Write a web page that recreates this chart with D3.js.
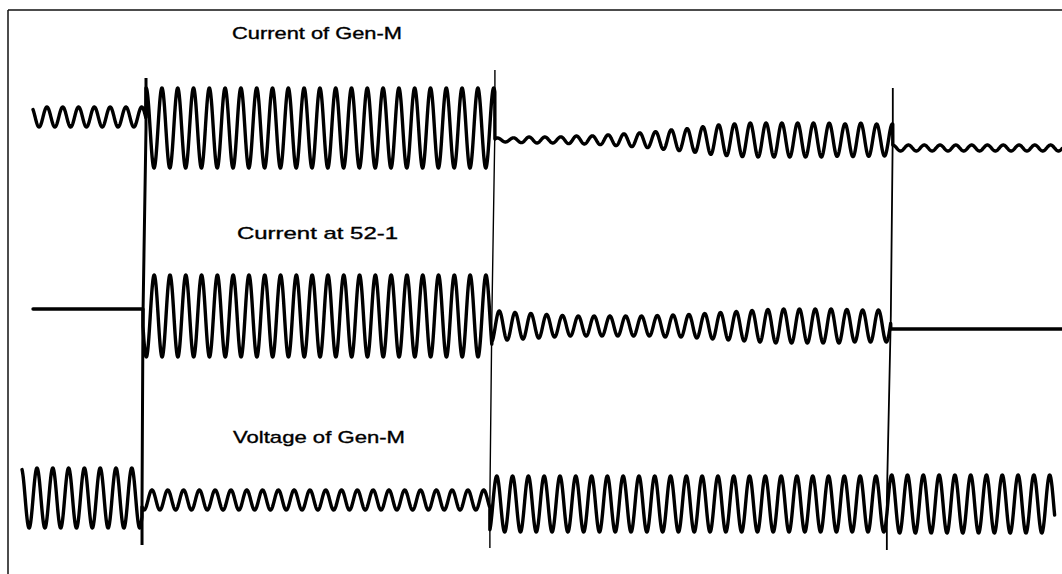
<!DOCTYPE html>
<html>
<head>
<meta charset="utf-8">
<script src="https://cdn.jsdelivr.net/npm/d3@7"></script>
<style>
  html, body { margin: 0; padding: 0; background: #fff; }
  svg { display: block; }
</style>
</head>
<body>
<div id="chart"></div>
<script>
// 60 Hz oscillogram, time in ms
const PERIOD = 1000 / 60;

const channelNames = ['Current of Gen-M', 'Current at 52-1', 'Voltage of Gen-M'];

// segment boundaries per channel (ms)
const segStart = [
  [26.4, 145.6, 513.7, 933.5],
  [26.4, 142.4, 510.5, 931.4],
  [14.8, 141.4, 508.4, 927.2]
];
const segEnd = [
  [145.6, 513.7, 933.5, 1112],
  [142.4, 510.5, 931.4, 1112],
  [141.4, 508.4, 927.2, 1104.4]
];
// dc level of each segment (trace units)
const segOffset = [
  [11, 0, -12, -20],
  [7, 0, -10, -13],
  [2, 0, -4, -4]
];
// time of one positive peak inside each segment (ms)
const segPeakAt = [
  [41.1, 162.4, 733.1, 950],
  [0, 170.9, 735, 0],
  [30.6, 151.9, 749, 749]
];
// peak amplitude of each cycle (trace units)
const segAmps = [
  [[10], [40],
   [2, 2, 3, 3, 3, 4, 4, 5, 6, 7, 8, 10, 11, 13, 15, 16, 17, 17, 17, 17, 17, 17, 16, 17, 16, 16],
   [3]],
  [[0], [41],
   [16, 14, 13, 12, 11, 10, 10, 10, 10, 10, 10, 11, 11, 12, 13, 14, 15, 16, 17, 17, 17, 17, 17, 16, 16, 16],
   [0]],
  [[30], [10], [28], [29]]
];

// breaker / fault event lines (index into segStart)
const eventIdx = [1, 2, 3];

const width = 1062, height = 574;
const chCenter = [128, 316, 500];
const labelX = [232, 237, 233];
const labelY = [39, 239, 443];
const labelLen = [170, 161, 172];
const eventTop = [78, 70, 88];
const eventBottom = [545, 548, 550];
const eventWidth = [3, 1.4, 1.8];

const svg = d3.select('#chart').append('svg')
  .attr('width', width)
  .attr('height', height);

const x = d3.scaleLinear().domain([0, 1112]).range([8, 1062]);

// frame
svg.append('line').attr('x1', 8).attr('x2', width).attr('y1', 10).attr('y2', 10)
  .attr('stroke', '#111').attr('stroke-width', 1.5);
svg.append('line').attr('x1', 8).attr('x2', 8).attr('y1', 10).attr('y2', height)
  .attr('stroke', '#111').attr('stroke-width', 1.5);

const line = d3.line().x(d => d[0]).y(d => d[1]);

channelNames.forEach((name, c) => {
  const y = d3.scaleLinear().domain([-50, 50]).range([chCenter[c] + 50, chCenter[c] - 50]);
  const pts = [];
  segStart[c].forEach((s, i) => {
    const e = segEnd[c][i];
    const amps = segAmps[c][i];
    for (let t = s; t <= e; t += 0.25) {
      const k = (t - s) / PERIOD;
      const k0 = Math.min(Math.floor(k), amps.length - 1);
      const k1 = Math.min(k0 + 1, amps.length - 1);
      const f = Math.min(1, Math.max(0, k - Math.floor(k)));
      const a = amps[k0] * (1 - f) + amps[k1] * f;
      const v = segOffset[c][i] + a * Math.cos(2 * Math.PI * (t - segPeakAt[c][i]) / PERIOD);
      pts.push([x(t), y(v)]);
    }
  });

  svg.append('path')
    .attr('d', line(pts))
    .attr('fill', 'none')
    .attr('stroke', '#000')
    .attr('stroke-width', 3.4)
    .attr('stroke-linejoin', 'round')
    .attr('stroke-linecap', 'round');

  svg.append('text')
    .attr('x', labelX[c])
    .attr('y', labelY[c])
    .attr('textLength', labelLen[c])
    .attr('lengthAdjust', 'spacingAndGlyphs')
    .attr('font-family', '"Liberation Sans", Arial, sans-serif')
    .attr('font-size', 17)
    .attr('fill', '#000')
    .attr('stroke', '#000')
    .attr('stroke-width', 0.35)
    .text(name);
});

// event marker lines, slightly skewed like the scanned record
eventIdx.forEach((ei, j) => {
  const xs = segStart.map(s => x(s[ei]));
  const pts = [
    [xs[0], eventTop[j]],
    [xs[0], chCenter[0]],
    [xs[1], chCenter[1]],
    [xs[2], chCenter[2]],
    [xs[2], eventBottom[j]]
  ];
  svg.append('path')
    .attr('d', line(pts))
    .attr('fill', 'none')
    .attr('stroke', '#000')
    .attr('stroke-width', eventWidth[j]);
});
</script>
</body>
</html>
